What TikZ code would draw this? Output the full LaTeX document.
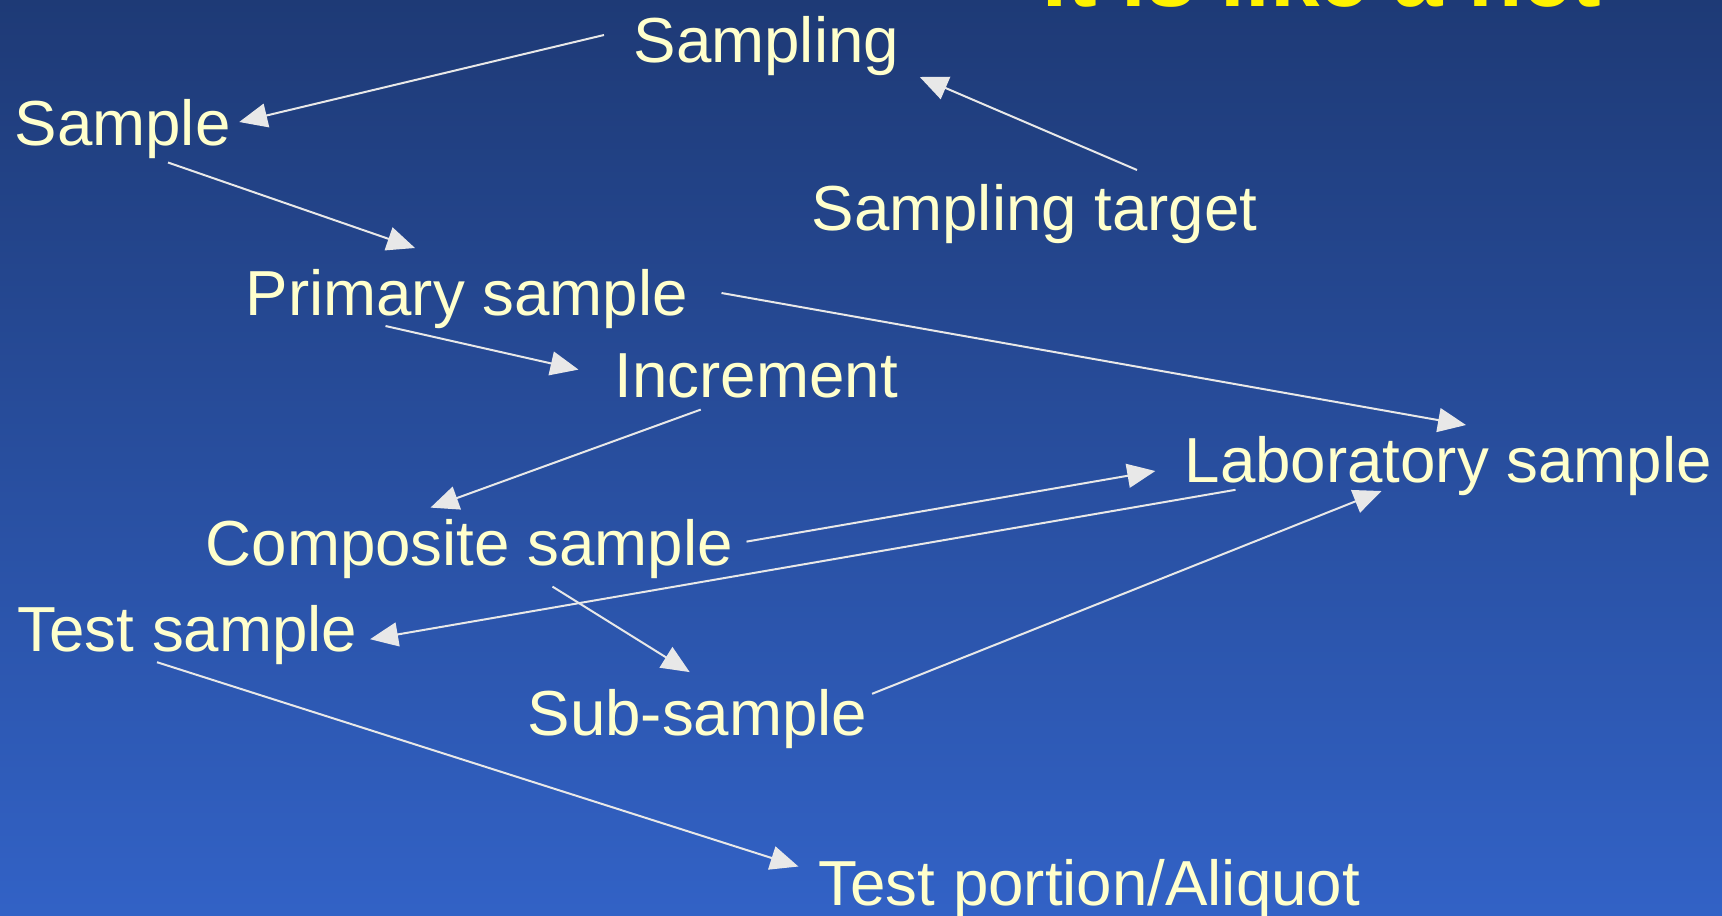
\documentclass[tikz,border=0pt]{standalone}
\usepackage{fontspec}
\setmainfont{Liberation Sans}
\usepackage{xcolor}
\usepackage{tikz}
\usetikzlibrary{calc}
\usetikzlibrary{arrows.meta}
\definecolor{bgtop}{RGB}{30,58,118}
\definecolor{bgbot}{RGB}{50,98,198}
\definecolor{labeltxt}{RGB}{255,255,204}
\definecolor{arrowgrey}{RGB}{232,232,232}
\tikzset{>={Triangle[length=0.28cm, width=0.24cm]}}
\tikzstyle{term} = [inner sep=0pt, anchor=base west, text=labeltxt, font=\fontsize{18.1}{20}\selectfont]
\tikzstyle{link} = [->, draw=arrowgrey, fill=arrowgrey, line width=0.02cm]

\begin{document}
\begin{tikzpicture}[x=0.01cm, y=-0.01cm]
\useasboundingbox (0,0) rectangle (1722,915);
\clip (0,0) rectangle (1722,915);
\shade [top color=bgtop, bottom color=bgbot] (0,0) rectangle (1722,915);
\node [inner sep=0pt, anchor=base west, text=yellow, font=\fontsize{25.3}{28}\selectfont\bfseries] (title) at (1042, 6) {It is like a net};
\node [term] (samp) at (633, 62) {Sampling};
\node [term] (sample) at (14, 145) {Sample};
\node [term] (target) at (811, 230) {Sampling target};
\node [term] (primary) at (245, 315) {Primary sample};
\node [term] (incr) at (614, 397.6) {Increment};
\node [term] (lab) at (1184, 482) {Laboratory sample};
\node [term] (comp) at (205, 565.6) {Composite sample};
\node [term] (test) at (17, 651.7) {Test sample};
\node [term] (sub) at (527, 735.8) {Sub-sample};
\node [term] (portion) at (818, 905) {Test portion/Aliquot};
\draw [link] ([shift={(-29,-27)}]samp.base west) to ([shift={(8,-23)}]sample.base east);
\draw [link] ([shift={(326,-60)}]target.base west) to ([shift={(20,15)}]samp.base east);
\draw [link] ([shift={(154,17.5)}]sample.base west) to ([shift={(170,-67)}]primary.base west);
\draw [link] ([shift={(33,-22)}]primary.base east) to ([shift={(282,-57)}]lab.base west);
\draw [link] ([shift={(140.5,11)}]primary.base west) to ([shift={(-35.5,-28)}]incr.base west);
\draw [link] ([shift={(86.7,12)}]incr.base west) to ([shift={(225.5,-58)}]comp.base west);
\draw [link] ([shift={(13,-24)}]comp.base east) to ([shift={(-28.7,-11)}]lab.base west);
\draw [link] ([shift={(51.5,7.8)}]lab.base west) to ([shift={(12,-12.5)}]test.base east);
\draw [link] ([shift={(347.5,21)}]comp.base west) to ([shift={(162.7,-63.7)}]sub.base west);
\draw [link] ([shift={(4,-42)}]sub.base east) to ([shift={(197.5,9)}]lab.base west);
\draw [link] ([shift={(140,10.5)}]test.base west) to ([shift={(-19.6,-38.5)}]portion.base west);
\end{tikzpicture}
\end{document}
